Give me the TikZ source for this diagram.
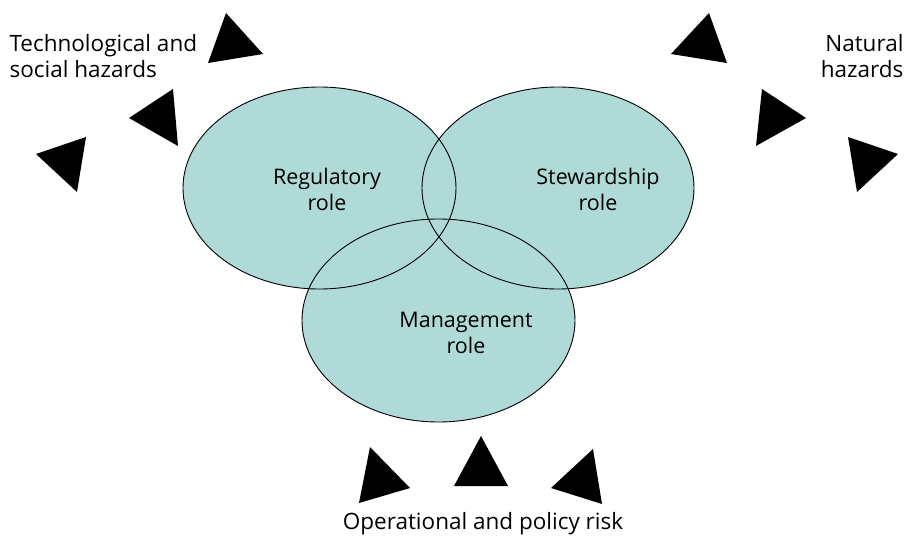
\documentclass[tikz,border=0pt]{standalone}
\usepackage{fontspec}
\setmainfont{Open Sans}
\definecolor{roleteal}{RGB}{176,218,215}
\tikzset{
  hazard/.style={fill=black},
  rolearea/.style={fill=roleteal},
  roleline/.style={draw=black, line width=0.9pt},
  rolelabel/.style={align=center, font=\fontsize{21.5}{26}\selectfont},
  risklabel/.style={font=\fontsize{22.5}{26}\selectfont}
}
\begin{document}
\begin{tikzpicture}[x=1pt, y=-1pt]
            \useasboundingbox (0,0) rectangle (906,538);

            % Role ellipses (fill first, then outlines)
            \fill[rolearea] (319.5,188) ellipse [x radius=136.5, y radius=101];
            \fill[rolearea] (558,188) ellipse [x radius=136, y radius=101];
            \fill[rolearea] (438.5,320.5) ellipse [x radius=136.5, y radius=101.5];
            \draw[roleline] (319.5,188) ellipse [x radius=136.5, y radius=101];
            \draw[roleline] (558,188) ellipse [x radius=136, y radius=101];
            \draw[roleline] (438.5,320.5) ellipse [x radius=136.5, y radius=101.5];

            % Role names
            \node[rolelabel] (regulatory) at (327,189) {Regulatory\\role};
            \node[rolelabel] (stewardship) at (598,189) {Stewardship\\role};
            \node[rolelabel] (management) at (466,333) {Management\\role};

            % Technological and social hazards
            \node[risklabel, align=left, anchor=west] (techhaz) at (6,56) {Technological and\\social hazards};
            \fill[hazard] (226,13) -- (263,54) -- (208,63) -- cycle;
            \fill[hazard] (173,89) -- (178,146) -- (129,118) -- cycle;
            \fill[hazard] (86,137) -- (77,192) -- (36,154) -- cycle;

            % Natural hazards
            \node[risklabel, align=right, anchor=east] (nathaz) at (907,56) {Natural\\hazards};
            \fill[hazard] (709,13) -- (727,63) -- (671,54) -- cycle;
            \fill[hazard] (762,89) -- (806,118) -- (756,146) -- cycle;
            \fill[hazard] (848,137) -- (898,154) -- (857,192) -- cycle;

            % Operational and policy risk
            \node[risklabel] (oprisk) at (483,524) {Operational and policy risk};
            \fill[hazard] (370,447) -- (410,488) -- (359,503) -- cycle;
            \fill[hazard] (481,436) -- (508,486) -- (454,486) -- cycle;
            \fill[hazard] (593,449) -- (602,504) -- (551,488) -- cycle;

          \end{tikzpicture}
\end{document}
